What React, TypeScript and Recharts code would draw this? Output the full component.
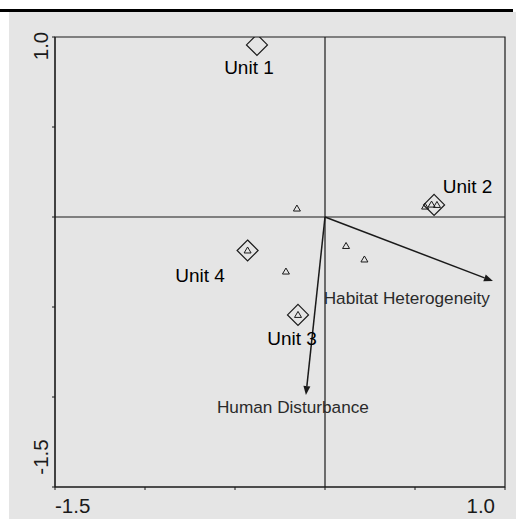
import React from 'react'
import { ScatterChart, Scatter, XAxis, YAxis, ReferenceLine, ReferenceArea } from 'recharts'

// ordination scores
const unitNames = ['Unit 1', 'Unit 2', 'Unit 3', 'Unit 4']
const unitX = [-0.378, 0.606, -0.15, -0.43]
const unitY = [0.956, 0.067, -0.544, -0.186]

const siteX = [-0.156, 0.556, 0.592, 0.622, -0.43, -0.217, 0.117, 0.219, -0.15]
const siteY = [0.047, 0.058, 0.069, 0.067, -0.186, -0.303, -0.161, -0.236, -0.544]

const vectorNames = ['Habitat Heterogeneity', 'Human Disturbance']
const vectorX = [0.933, -0.106]
const vectorY = [-0.356, -0.989]

const axisTicks = [-1.5, -1, -0.5, 0, 0.5, 1]
const tickLabels = ['-1.5', '', '', '', '', '1.0']

const units = unitNames.map((name, i) => ({ name, x: unitX[i], y: unitY[i] }))
const sites = siteX.map((x, i) => ({ x, y: siteY[i] }))

const FONT = "'Liberation Sans', Arial, sans-serif"
const INK = '#1a1a1a'

const unitLabelOffset: Record<string, [number, number]> = {
  'Unit 1': [-8, 29],
  'Unit 2': [33.5, -12],
  'Unit 3': [-6, 30],
  'Unit 4': [-47.5, 31.5],
}

const labelFor = (v: number) => tickLabels[axisTicks.indexOf(v)] || ''

function XTick({ x, y, payload }: any) {
  const label = labelFor(payload.value)
  if (!label) return <g />
  const isFirst = payload.value === axisTicks[0]
  return (
    <text x={isFirst ? x : x - 10} y={y} dy={21} textAnchor={isFirst ? 'start' : 'end'}
      fontFamily={FONT} fontSize={20.5} fill={INK}>{label}</text>
  )
}

function YTick({ x, y, payload }: any) {
  const label = labelFor(payload.value)
  if (!label) return <g />
  const cx = x - 10
  const cy = payload.value === axisTicks[0] ? y - 30 : y + 9
  return (
    <text x={cx} y={cy} transform={`rotate(-90, ${cx}, ${cy})`} textAnchor="middle"
      dominantBaseline="central" fontFamily={FONT} fontSize={20.5} fill={INK}>{label}</text>
  )
}

function UnitMarker({ cx, cy, payload }: any) {
  const r = 10.5
  const [dx, dy] = unitLabelOffset[payload.name] || [0, 28]
  return (
    <g>
      <polygon points={`${cx},${cy - r} ${cx + r},${cy} ${cx},${cy + r} ${cx - r},${cy}`}
        fill="none" stroke={INK} strokeWidth={1.2} />
      <text x={cx + dx} y={cy + dy} textAnchor="middle" fontFamily={FONT} fontSize={19} fill="#000">
        {payload.name}
      </text>
    </g>
  )
}

function SiteMarker({ cx, cy }: any) {
  return (
    <polygon points={`${cx},${cy - 3.5} ${cx + 3.5},${cy + 2.5} ${cx - 3.5},${cy + 2.5}`}
      fill="none" stroke={INK} strokeWidth={1} />
  )
}

function makeArrow(name: string) {
  return (p: any) => {
    const { x1, y1, x2, y2 } = p
    const a = Math.atan2(y2 - y1, x2 - x1)
    const L = 9
    const w = 3.5
    const bx = x2 - L * Math.cos(a)
    const by = y2 - L * Math.sin(a)
    const px = -Math.sin(a) * w
    const py = Math.cos(a) * w
    const isHabitat = name === vectorNames[0]
    return (
      <g>
        <line x1={x1} y1={y1} x2={bx} y2={by} stroke={INK} strokeWidth={1.5} />
        <polygon points={`${x2},${y2} ${bx + px},${by + py} ${bx - px},${by - py}`} fill={INK} />
        <text x={isHabitat ? x2 - 3 : x2 - 13} y={isHabitat ? y2 + 23 : y2 + 18}
          textAnchor={isHabitat ? 'end' : 'middle'} fontFamily={FONT} fontSize={17.2} fill="#2a2a2a">
          {name}
        </text>
      </g>
    )
  }
}

export default function App() {
  return (
    <div style={{ position: 'absolute', left: 0, top: 0, width: 516, height: 519, background: '#fff' }}>
      <div style={{ position: 'absolute', left: 0, top: 9, width: 513, height: 3, background: '#000' }} />
      <div style={{ position: 'absolute', left: 9, top: 12, width: 507, height: 507, background: '#e5e5e5' }} />
      <div style={{ position: 'absolute', left: 0, top: 0 }}>
        <ScatterChart width={516} height={519} margin={{ top: 37, right: 11, bottom: 0, left: 0 }}>
          <XAxis type="number" dataKey="x" domain={[-1.5, 1]} ticks={axisTicks} interval={0}
            allowDataOverflow height={32} tickSize={3} tickMargin={2}
            stroke={INK} tick={<XTick />} />
          <YAxis type="number" dataKey="y" domain={[-1.5, 1]} ticks={axisTicks} interval={0}
            allowDataOverflow width={55} tickSize={3} tickMargin={2}
            stroke={INK} tick={<YTick />} />
          <ReferenceArea x1={-1.5} x2={1} y1={-1.5} y2={1} fill="none" stroke={INK} strokeWidth={1.2} fillOpacity={0} />
          <ReferenceLine x={0} stroke={INK} strokeWidth={1.2} />
          <ReferenceLine y={0} stroke={INK} strokeWidth={1.2} />
          {vectorNames.map((name, i) => (
            <ReferenceLine key={name} segment={[{ x: 0, y: 0 }, { x: vectorX[i], y: vectorY[i] }]}
              shape={makeArrow(name)} ifOverflow="visible" />
          ))}
          <Scatter data={sites} shape={<SiteMarker />} isAnimationActive={false} />
          <Scatter data={units} shape={<UnitMarker />} isAnimationActive={false} />
        </ScatterChart>
      </div>
    </div>
  )
}
